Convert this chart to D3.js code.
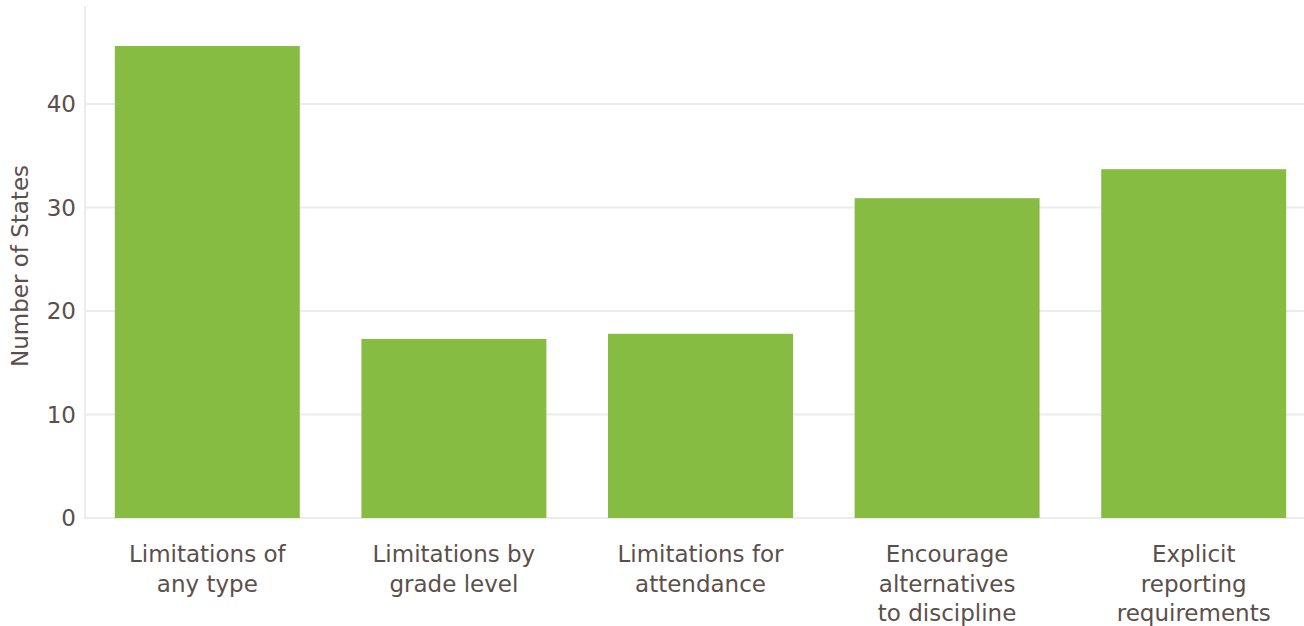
<!DOCTYPE html>
<html lang="en">
<head>
    <meta charset="UTF-8">
    <title>Number of States</title>
    <script src="https://d3js.org/d3.v7.min.js"></script>
    <style>
        body { margin: 0; background: #fff; }
        svg { display: block; font-family: "DejaVu Sans", sans-serif; }
        .grid line { stroke: #ececec; stroke-width: 2px; }
        .label { fill: #5b4f4b; }
    </style>
</head>
<body>
    <div id="chart"></div>
    <script>
        // Data
        const categories = [
            "Limitations of any type",
            "Limitations by grade level",
            "Limitations for attendance",
            "Encourage alternatives to discipline",
            "Explicit reporting requirements"
        ];
        const labelLines = [
            ["Limitations of", "any type"],
            ["Limitations by", "grade level"],
            ["Limitations for", "attendance"],
            ["Encourage", "alternatives", "to discipline"],
            ["Explicit", "reporting", "requirements"]
        ];
        const values = [45.6, 17.3, 17.8, 30.9, 33.7];
        const yTicks = [0, 10, 20, 30, 40];

        const width = 1304, height = 626;
        const svg = d3.select("#chart").append("svg")
            .attr("width", width)
            .attr("height", height);

        const axisX = 85;
        const y = d3.scaleLinear().domain([0, 50]).range([518, 0.5]);
        const x = d3.scaleBand()
            .domain(categories)
            .range([84, 1317])
            .paddingInner(0.25)
            .paddingOuter(0.125);

        // horizontal grid lines
        const grid = svg.append("g").attr("class", "grid");
        grid.selectAll("line")
            .data(yTicks)
            .enter().append("line")
            .attr("x1", axisX)
            .attr("x2", width)
            .attr("y1", d => y(d))
            .attr("y2", d => y(d));

        // left axis line
        svg.append("line")
            .attr("x1", axisX).attr("x2", axisX)
            .attr("y1", 6).attr("y2", y(0) + 1)
            .attr("stroke", "#ececec")
            .attr("stroke-width", 2);

        // tick labels
        svg.append("g").selectAll("text")
            .data(yTicks)
            .enter().append("text")
            .attr("class", "label")
            .attr("x", 76)
            .attr("y", d => y(d))
            .attr("dy", "0.35em")
            .attr("text-anchor", "end")
            .style("font-size", "23px")
            .text(d => d);

        // bars
        svg.append("g").selectAll("rect")
            .data(values)
            .enter().append("rect")
            .attr("x", (d, i) => x(categories[i]))
            .attr("y", d => y(d))
            .attr("width", x.bandwidth())
            .attr("height", d => y(0) - y(d))
            .attr("fill", "#86bc42");

        // category labels
        const cat = svg.append("g").selectAll("text")
            .data(labelLines)
            .enter().append("text")
            .attr("class", "label")
            .attr("text-anchor", "middle")
            .style("font-size", "23px")
            .attr("transform", (d, i) => `translate(${x(categories[i]) + x.bandwidth() / 2},562)`);

        cat.selectAll("tspan")
            .data(d => d)
            .enter().append("tspan")
            .attr("x", 0)
            .attr("y", (d, i) => i * 29.5)
            .text(d => d);

        // y axis title
        svg.append("text")
            .attr("class", "label")
            .attr("transform", "translate(28,266) rotate(-90)")
            .attr("text-anchor", "middle")
            .style("font-size", "23px")
            .text("Number of States");
    </script>
</body>
</html>
